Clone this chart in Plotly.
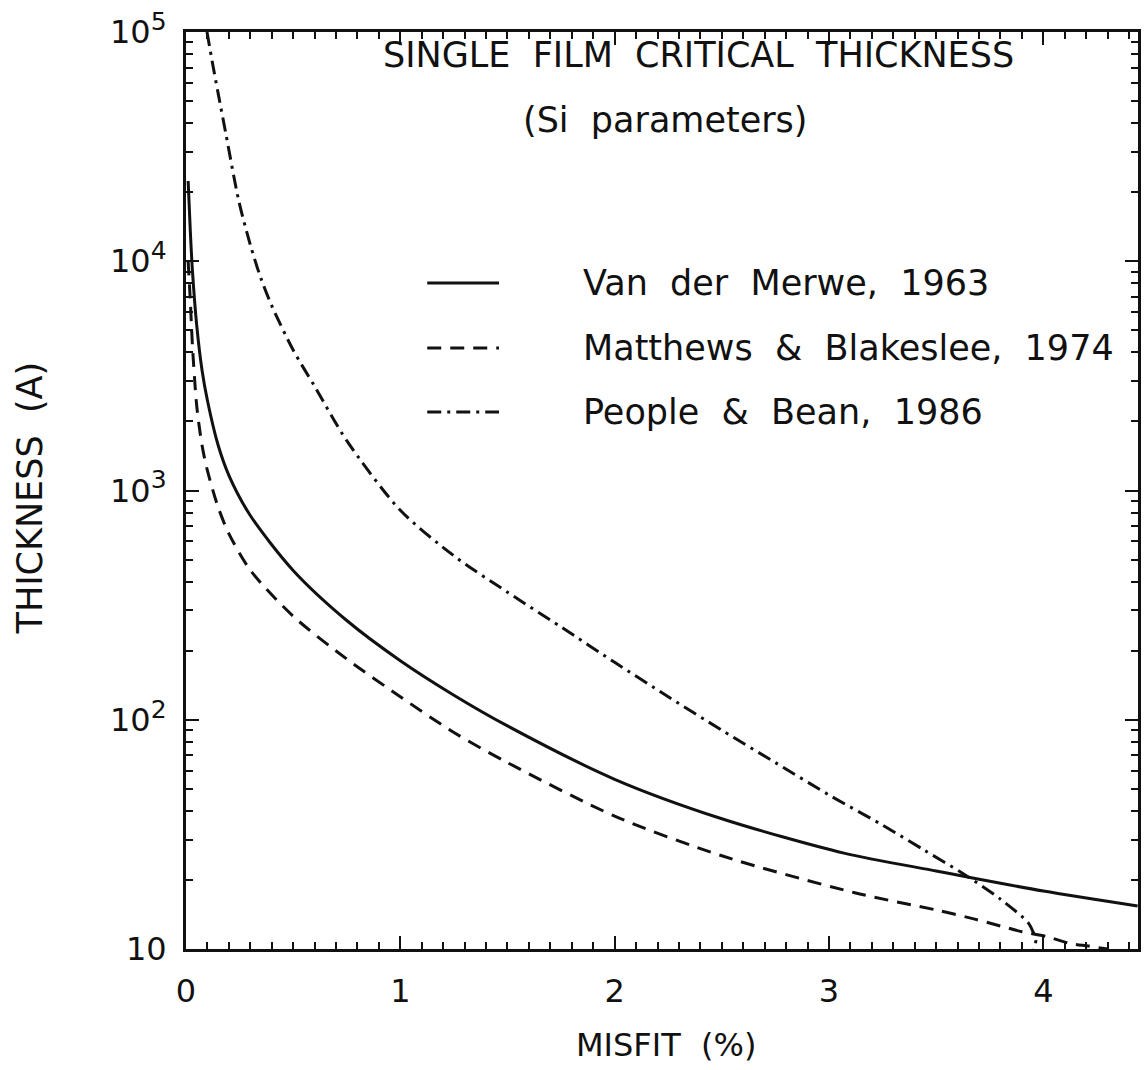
import plotly.graph_objects as go

# ---- data ----
misfit_vdm = [0.01, 0.02, 0.03, 0.05, 0.075, 0.1, 0.15, 0.2, 0.3, 0.5, 0.75,
              1.0, 1.25, 1.5, 2.0, 2.5, 3.07, 3.5, 3.67, 4.0, 4.44]
thick_vdm = [22400, 13600, 9100, 5250, 3340, 2470, 1575, 1165, 778, 448, 271,
             181, 128, 94, 55, 37, 26.2, 21.9, 20.4, 17.9, 15.4]

misfit_mb = [0.01, 0.02, 0.03, 0.05, 0.075, 0.1, 0.15, 0.2, 0.3, 0.5, 0.75,
             1.0, 1.25, 1.5, 2.0, 2.5, 3.12, 3.5, 3.68, 3.8, 3.9, 4.02, 4.12, 4.21, 4.3]
thick_mb = [10000, 6760, 4300, 2340, 1570, 1220, 845, 649, 449, 283, 184,
            126, 88, 65, 38, 25.5, 17.6, 14.8, 13.5, 12.6, 11.9, 11.3, 10.6, 10.3, 10.0]

misfit_pb = [0.098, 0.125, 0.15, 0.186, 0.246, 0.3, 0.35, 0.4, 0.5, 0.6, 0.75,
             1.0, 1.25, 1.5, 1.75, 2.0, 2.25, 2.5, 2.75, 3.0, 3.25, 3.45, 3.63,
             3.8, 3.93, 3.955, 3.965, 3.962, 3.955]
thick_pb = [100000, 72000, 54000, 36000, 18400, 11800, 8400, 6400, 4100, 2850, 1650,
            820, 519, 360, 254, 178, 126, 90, 65, 47, 34.7, 26.8, 21.2,
            16.5, 13.0, 11.7, 11.0, 10.4, 10.0]

legend_labels = ["Van der Merwe, 1963", "Matthews & Blakeslee, 1974", "People & Bean, 1986"]
x_tickvals = [0, 1, 2, 3, 4]
x_ticktext = ["0", "1", "2", "3", "4"]
y_tickvals = [10, 100, 1000, 10000, 100000]
y_exponents = ["", "2", "3", "4", "5"]
y_ticktext = ["10" + (f"<sup><span style='font-size:25px'>{e}</span></sup>" if e else "")
              for e in y_exponents]
y_minor = [m * 10 ** e for e in range(1, 5) for m in range(2, 10)]

FONT = "DejaVu Sans"
INK = "#111111"
dashes = ["solid", "14px,9px", "14px,6px,3px,6px"]

fig = go.Figure()
for xs, ys, name, d in [(misfit_vdm, thick_vdm, legend_labels[0], dashes[0]),
                        (misfit_mb, thick_mb, legend_labels[1], dashes[1]),
                        (misfit_pb, thick_pb, legend_labels[2], dashes[2])]:
    fig.add_trace(go.Scatter(x=xs, y=ys, mode="lines", name=name,
                             line=dict(color=INK, width=3, dash=d, shape="spline", smoothing=0.8),
                             showlegend=False, cliponaxis=True))

W, H = 1144, 1070
L, R, T, B = 186, 3, 32, 121
pw, ph = W - L - R, H - T - B


def px(xp):
    return (xp - L) / pw


def py(yp):
    return (H - B - yp) / ph


# manual legend
rows = [283, 348, 412]
for i, lab in enumerate(legend_labels):
    fig.add_shape(type="line", xref="paper", yref="paper",
                  x0=px(428), x1=px(500), y0=py(rows[i]), y1=py(rows[i]),
                  line=dict(color=INK, width=3, dash=dashes[i]))
    fig.add_annotation(xref="paper", yref="paper", x=px(582), y=py(rows[i]),
                       text=lab.replace(" ", "\u00a0 "), showarrow=False,
                       xanchor="left", yanchor="middle",
                       font=dict(family=FONT, size=35, color=INK))

fig.add_annotation(xref="paper", yref="paper", x=px(700), y=py(55),
                   text="SINGLE\u00a0 FILM\u00a0 CRITICAL\u00a0 THICKNESS", showarrow=False,
                   xanchor="center", yanchor="middle", font=dict(family=FONT, size=35, color=INK))
fig.add_annotation(xref="paper", yref="paper", x=px(667), y=py(120),
                   text="(Si\u00a0 parameters)", showarrow=False,
                   xanchor="center", yanchor="middle", font=dict(family=FONT, size=35, color=INK))
fig.add_annotation(xref="paper", yref="paper", x=px(668), y=py(1045),
                   text="MISFIT\u00a0 (%)", showarrow=False,
                   xanchor="center", yanchor="middle", font=dict(family=FONT, size=32, color=INK))
fig.add_annotation(xref="paper", yref="paper", x=px(30), y=py(498),
                   text="THICKNESS\u00a0 (A)", showarrow=False, textangle=-90,
                   xanchor="center", yanchor="middle", font=dict(family=FONT, size=35, color=INK))

fig.update_layout(
    width=W, height=H,
    margin=dict(l=L, r=R, t=T, b=B, pad=0),
    paper_bgcolor="white", plot_bgcolor="white",
    font=dict(family=FONT, size=32, color=INK),
    xaxis=dict(range=[0, pw / 215.0], showgrid=False, zeroline=False,
               showline=True, linewidth=3, linecolor=INK, mirror="ticks",
               ticks="inside", ticklen=13, tickwidth=2, tickcolor=INK,
               tickmode="array", tickvals=x_tickvals, ticktext=x_ticktext,
               ticklabelstandoff=12,
               minor=dict(ticks="inside", ticklen=7, tickwidth=2, tickcolor=INK, dtick=0.1, showgrid=False)),
    yaxis=dict(type="log", range=[1, 5], showgrid=False, zeroline=False,
               showline=True, linewidth=3, linecolor=INK, mirror="ticks",
               ticks="inside", ticklen=13, tickwidth=2, tickcolor=INK,
               tickmode="array", tickvals=y_tickvals, ticktext=y_ticktext,
               ticklabelstandoff=10,
               minor=dict(ticks="inside", ticklen=7, tickwidth=2, tickcolor=INK,
                          tickmode="array", tickvals=y_minor, showgrid=False)),
)

fig.write_html("out.html")
